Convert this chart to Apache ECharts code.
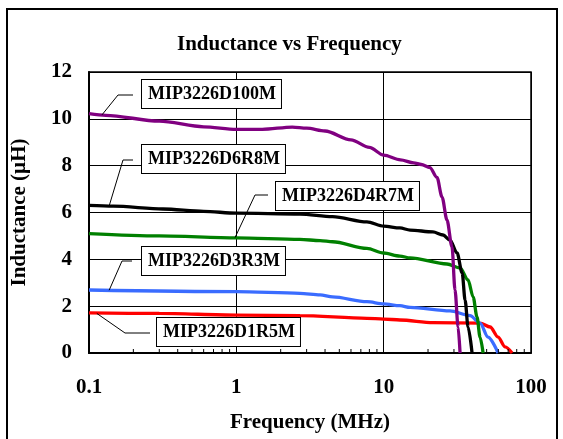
<!DOCTYPE html>
<html><head><meta charset="utf-8">
<script src="https://cdn.jsdelivr.net/npm/echarts@6/dist/echarts.min.js"></script>
<style>
html,body{margin:0;padding:0;background:#fff;}
#wrap{position:relative;width:563px;height:439px;overflow:hidden;}
#c{width:563px;height:439px;}
#frame{position:absolute;left:6px;top:8px;width:552px;height:445px;border:2px solid #000;box-sizing:border-box;pointer-events:none;}
</style></head><body>
<div id="wrap"><div id="c"></div><div id="frame"></div></div>
<script>
// ---- data (frequency MHz, inductance uH) ----
const seriesNames = ['MIP3226D100M','MIP3226D6R8M','MIP3226D4R7M','MIP3226D3R3M','MIP3226D1R5M'];
const d100M = [[0.1,10.22],[0.13,10.15],[0.3,9.9],[0.6,9.66],[1.0,9.55],[1.5,9.55],[2.4,9.65],[3.0,9.6],[4.0,9.48],[6.0,9.1],[8.0,8.78],[10,8.45],[13,8.25],[16,8.12],[18,8.05],[20.6,7.92],[23,7.5],[24.9,6.66],[26.9,5.68],[29.1,4.53],[30.5,2.69],[32,1.11],[33,0]];
const d6R8M = [[0.1,6.3],[0.146,6.27],[0.318,6.15],[0.6,6.05],[1.0,5.97],[2.7,5.93],[4.5,5.82],[7.7,5.6],[10,5.42],[12.9,5.34],[15.1,5.25],[21.6,5.17],[25.3,5.04],[28.2,4.82],[31.5,4.27],[34.1,3.42],[35.7,2.26],[37.4,1.11],[39.8,0]];
const d4R7M = [[0.1,5.1],[0.3,5.0],[1.0,4.92],[2.7,4.85],[3.7,4.8],[4.5,4.75],[7.7,4.47],[10,4.27],[12.9,4.14],[15.1,4.06],[26.9,3.8],[33,3.63],[37.4,3.12],[40.5,2.39],[43,1.54],[45.1,0.68],[47.3,0]];
const d3R3M = [[0.1,2.69],[1.0,2.62],[2.7,2.55],[3.7,2.48],[4.5,2.4],[7.7,2.19],[10,2.1],[12.9,2.02],[15.1,1.95],[28.2,1.8],[38.6,1.6],[45.1,1.28],[51.1,0.68],[59.8,0]];
const d1R5M = [[0.1,1.71],[0.3,1.69],[1.0,1.62],[2.7,1.6],[7.7,1.48],[10,1.45],[12.9,1.41],[21.6,1.3],[45.1,1.28],[52.8,1.11],[59.8,0.68],[66.7,0.26],[74.4,0]];
const seriesData = [d100M, d6R8M, d4R7M, d3R3M, d1R5M];
const seriesColors = ['#800080','#000000','#008000','#3a6cff','#ff0000'];
const xTickLabels = ['0.1','1','10','100'];
const yTicks = [0,2,4,6,8,10,12];
const minorTickFreqs = [];
[0.1,1,10].forEach(d => { for (let m = 2; m <= 9; m++) minorTickFreqs.push(+(d*m).toFixed(3)); });
// label anchors: point on each curve the leader line points to
const labelAnchors = [[0.1225,10.17],[0.137,6.28],[0.98,4.93],[0.137,2.68],[0.113,1.69]];

// ---- layout for annotation boxes (pixels) ----
const boxPos = [[142,80],[142,145],[276,182],[142,247],[157,318]];
const elbows = [[[118,95],[133,95]],[[123,160],[133,160]],[[255,195],[268,195]],[[122,261],[132,261]],[[125,333],[150,333]]];

const FONT = '"Liberation Serif","Times New Roman",serif';
const chart = echarts.init(document.getElementById('c'));
const lineSeries = seriesNames.map((n, i) => ({
  name: n, type: 'line', data: seriesData[i], showSymbol: false, symbol: 'none',
  smooth: 0.3, smoothMonotone: 'x',
  lineStyle: { color: seriesColors[i], width: 3.3 }, itemStyle: { color: seriesColors[i] },
  z: 5 - i + 3, clip: true, animation: false
}));
lineSeries.push({
  type: 'custom', data: minorTickFreqs.map(f => [f, 0]), silent: true, z: 20, animation: false,
  renderItem: (params, api) => {
    const p = api.coord([api.value(0), api.value(1)]);
    return { type: 'line', shape: { x1: p[0], y1: p[1], x2: p[0], y2: p[1] - 4 }, style: { stroke: '#000', lineWidth: 1 } };
  }
});
chart.setOption({
  animation: false,
  backgroundColor: '#fff',
  title: { text: 'Inductance vs Frequency', left: 172, top: 29, padding: 5,
    textStyle: { fontFamily: FONT, fontWeight: 'bold', fontSize: 21, color: '#000' } },
  grid: { left: 89, right: 32, top: 72, bottom: 86, show: true, borderColor: '#000', borderWidth: 1.5, backgroundColor: 'transparent' },
  xAxis: {
    type: 'log', logBase: 10, min: 0.1, max: 100,
    name: 'Frequency (MHz)', nameLocation: 'middle', nameGap: 59,
    nameTextStyle: { fontFamily: FONT, fontWeight: 'bold', fontSize: 21, color: '#000' },
    axisLine: { lineStyle: { color: '#000', width: 2 } },
    axisTick: { show: false },
    splitLine: { show: true, lineStyle: { color: '#000', width: 1 } },
    axisLabel: { margin: 24, fontFamily: FONT, fontWeight: 'bold', fontSize: 21, color: '#000',
      formatter: v => { const i = Math.round(Math.log10(v) + 1); return xTickLabels[i] !== undefined ? xTickLabels[i] : ''; } }
  },
  yAxis: {
    type: 'value', min: yTicks[0], max: yTicks[yTicks.length-1], interval: 2,
    name: 'Inductance (µH)', nameLocation: 'middle', nameGap: 59, nameRotate: 90,
    nameTextStyle: { fontFamily: FONT, fontWeight: 'bold', fontSize: 21, color: '#000' },
    axisLine: { show: true, lineStyle: { color: '#000', width: 2 } },
    axisTick: { show: false },
    splitLine: { show: true, lineStyle: { color: '#000', width: 1 } },
    axisLabel: { margin: 17, fontFamily: FONT, fontWeight: 'bold', fontSize: 21, color: '#000' }
  },
  series: lineSeries
});

// ---- annotation boxes with leader lines ----
const graphics = [];
seriesNames.forEach((n, i) => {
  const a = chart.convertToPixel({ gridIndex: 0 }, labelAnchors[i]);
  const e = elbows[i];
  graphics.push({ type: 'polyline', z: 30, silent: true,
    shape: { points: [[a[0], a[1]], e[0], e[1]] }, style: { stroke: '#000', lineWidth: 1, fill: null } });
  graphics.push({ type: 'text', z: 31, silent: true, x: boxPos[i][0], y: boxPos[i][1],
    style: { text: n, font: 'bold 18px ' + FONT, fill: '#000', backgroundColor: '#fff',
      borderColor: '#000', borderWidth: 1, padding: [5, 5, 4, 6], lineHeight: 19 } });
});
chart.setOption({ graphic: graphics });
</script>
</body></html>
